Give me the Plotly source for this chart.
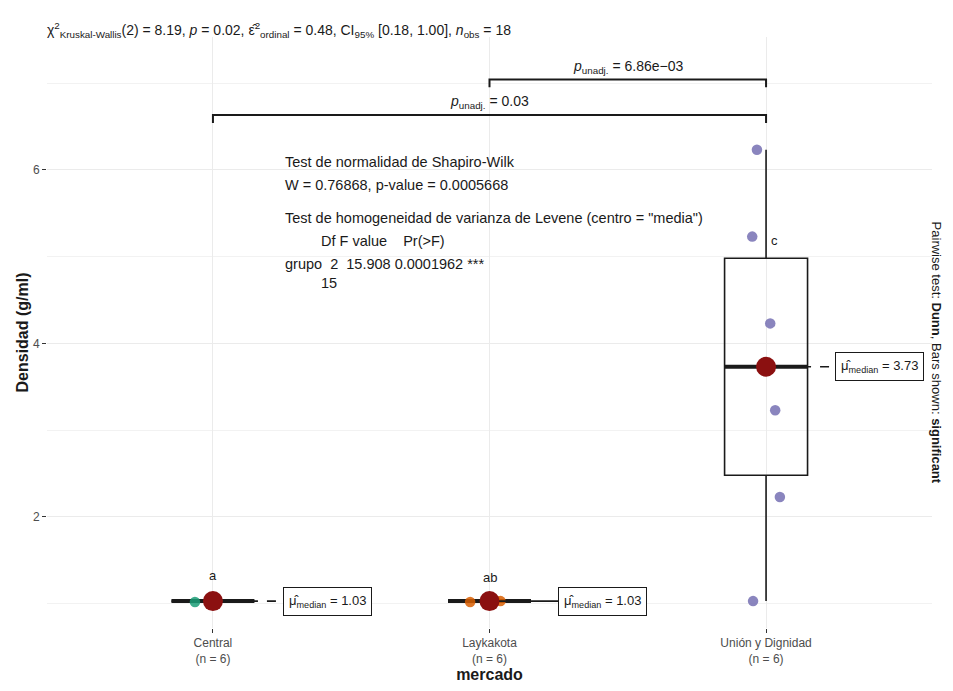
import numpy as np
import plotly.graph_objects as go

# ---------------- data ----------------
categories = ["Central", "Laykakota", "Unión y Dignidad"]
n_labels = ["(n = 6)", "(n = 6)", "(n = 6)"]
central = [1.02, 1.03, 1.03, 1.03, 1.03, 1.04]
laykakota = [1.02, 1.03, 1.03, 1.03, 1.03, 1.04]
union = [1.03, 2.23, 3.23, 4.23, 5.23, 6.23]
cld_letters = ["a", "ab", "c"]
y_ticks = [2, 4, 6]
pairwise = [("Laykakota", "Unión y Dignidad", "6.86e−03"),
            ("Central", "Unión y Dignidad", "0.03")]
title_text = ("χ<sup>2</sup><sub>Kruskal-Wallis</sub>(2) = 8.19, <i>p</i> = 0.02, "
              "ε̂<sup>2</sup><sub>ordinal</sub> = 0.48, CI<sub>95%</sub> [0.18, 1.00], "
              "<i>n</i><sub>obs</sub> = 18")
stats_lines = [
    "Test de normalidad de Shapiro-Wilk",
    "W = 0.76868, p-value = 0.0005668",
    "Test de homogeneidad de varianza de Levene (centro = \"media\")",
    "Df F value    Pr(>F)",
    "grupo  2  15.908 0.0001962 ***",
    "15",
]
caption = "Pairwise test: <b>Dunn</b>, Bars shown: <b>significant</b>"

# ---------------- styles / positions ----------------
FONT = "Liberation Sans, Arial, sans-serif"
colors = ["#1B9E77", "#D95F02", "#7570B3"]
jitter = [[-0.065, -0.01, 0.0, 0.01, 0.005, 0.015],
          [-0.07, -0.01, 0.0, 0.01, 0.04, 0.02],
          [-0.047, 0.05, 0.033, 0.015, -0.05, -0.033]]
box_w = 0.3
groups = [central, laykakota, union]
xs = [1, 2, 3]

fig = go.Figure()

# boxes (ggplot-style quartiles, type 7)
for i, vals in enumerate(groups):
    v = np.asarray(vals, dtype=float)
    q1, med, q3 = np.percentile(v, [25, 50, 75])
    iqr = q3 - q1
    lo = v[v >= q1 - 1.5 * iqr].min()
    hi = v[v <= q3 + 1.5 * iqr].max()
    fig.add_trace(go.Box(
        x=[xs[i]], q1=[q1], median=[med], q3=[q3], lowerfence=[lo], upperfence=[hi],
        width=box_w, fillcolor="rgba(255,255,255,0)",
        line=dict(color="#1a1a1a", width=1.6),
        whiskerwidth=0, boxpoints=False, showlegend=False, hoverinfo="skip"))
    fig.add_trace(go.Scatter(
        x=[xs[i] - box_w / 2, xs[i] + box_w / 2], y=[med, med], mode="lines",
        line=dict(color="#1a1a1a", width=4), showlegend=False, hoverinfo="skip"))

# points
for i, vals in enumerate(groups):
    fig.add_trace(go.Scatter(
        x=[xs[i] + j for j in jitter[i]], y=vals, mode="markers",
        marker=dict(color=colors[i], size=10.5, opacity=0.85, line=dict(width=0)),
        showlegend=False, hoverinfo="skip"))

# label segments + median labels
label_left = [1.253, 2.248, 3.25]
for i, vals in enumerate(groups):
    med = float(np.median(vals))
    fig.add_trace(go.Scatter(
        x=[xs[i], label_left[i]], y=[med, med], mode="lines",
        line=dict(color="#1a1a1a", width=1.6, dash="dash" if i != 1 else "solid"),
        showlegend=False, hoverinfo="skip"))
    fig.add_annotation(
        x=label_left[i], y=med, xref="x", yref="y", xanchor="left", yanchor="middle",
        text=f"μ̂<sub>median</sub> = {med:.2f}", showarrow=False,
        font=dict(family=FONT, size=13, color="#1a1a1a"),
        bordercolor="#1a1a1a", borderwidth=1, borderpad=5, bgcolor="white")

# median dots
for i, vals in enumerate(groups):
    med = float(np.median(vals))
    fig.add_trace(go.Scatter(
        x=[xs[i]], y=[med], mode="markers",
        marker=dict(color="#8B1010", size=20, line=dict(width=0)),
        showlegend=False, hoverinfo="skip"))

# compact letters
letter_pos = [(1.0, 1.33), (2.0, 1.30), (3.03, 5.18)]
for (lx, ly), t in zip(letter_pos, cld_letters):
    fig.add_annotation(x=lx, y=ly, text=t, showarrow=False,
                       font=dict(family=FONT, size=13, color="#1a1a1a"))

# significance brackets
bracket_y = [7.04, 6.63]
tip = 0.09
for (a, b, p), by in zip(pairwise, bracket_y):
    xa = xs[categories.index(a)]
    xb = xs[categories.index(b)]
    fig.add_trace(go.Scatter(
        x=[xa, xa, xb, xb], y=[by - tip, by, by, by - tip], mode="lines",
        line=dict(color="#1a1a1a", width=2), showlegend=False, hoverinfo="skip"))
    fig.add_annotation(x=(xa + xb) / 2, y=by, yanchor="bottom", yshift=2,
                       text=f"<i>p</i><sub>unadj.</sub> = {p}", showarrow=False,
                       font=dict(family=FONT, size=14, color="#1a1a1a"))

# stats text block
stats_pos = [(1.253, 6.09), (1.253, 5.83), (1.253, 5.45), (1.385, 5.18),
             (1.253, 4.92), (1.385, 4.69)]
for (sx, sy), t in zip(stats_pos, stats_lines):
    fig.add_annotation(x=sx, y=sy, xanchor="left", yanchor="middle", text=t,
                       showarrow=False, font=dict(family=FONT, size=14.5, color="#1a1a1a"))

# title
fig.add_annotation(x=0, y=1.0, xref="paper", yref="paper", xanchor="left",
                   yanchor="middle", yshift=7, xshift=-2, text=title_text, showarrow=False,
                   font=dict(family=FONT, size=14, color="#1a1a1a"))
# caption
fig.add_annotation(x=1.0045, y=0.466, xref="paper", yref="paper", xanchor="center",
                   yanchor="middle", text=caption, textangle=90, showarrow=False,
                   font=dict(family=FONT, size=13, color="#1a1a1a"))

# page body has an 8px margin, so the figure is shrunk and margins offset
fig.update_layout(
    width=937, height=675, plot_bgcolor="white", paper_bgcolor="white",
    margin=dict(l=39, r=13, t=29, b=55), showlegend=False,
    font=dict(family=FONT, color="#1a1a1a"),
    xaxis=dict(range=[0.4, 3.6], tickvals=xs, automargin=False,
               ticktext=[f"{c}<br>{n}" for c, n in zip(categories, n_labels)],
               showgrid=True, gridcolor="#EBEBEB", gridwidth=1, zeroline=False,
               ticks="outside", ticklen=4, tickcolor="#333333",
               tickfont=dict(family=FONT, size=12, color="#4D4D4D"),
               title=dict(text="<b>mercado</b>", standoff=8,
                          font=dict(family=FONT, size=16, color="#1a1a1a"))),
    yaxis=dict(range=[0.72, 7.53], tickvals=y_ticks, showgrid=True, automargin=False,
               gridcolor="#EBEBEB", gridwidth=1, zeroline=False,
               minor=dict(dtick=1, tick0=1, showgrid=True, gridcolor="#F2F2F2", gridwidth=1),
               ticks="outside", ticklen=4, tickcolor="#333333",
               tickfont=dict(family=FONT, size=12, color="#4D4D4D"),
               title=dict(text="<b>Densidad (g/ml)</b>", standoff=0,
                          font=dict(family=FONT, size=16, color="#1a1a1a"))),
)

fig.write_html("out.html")
